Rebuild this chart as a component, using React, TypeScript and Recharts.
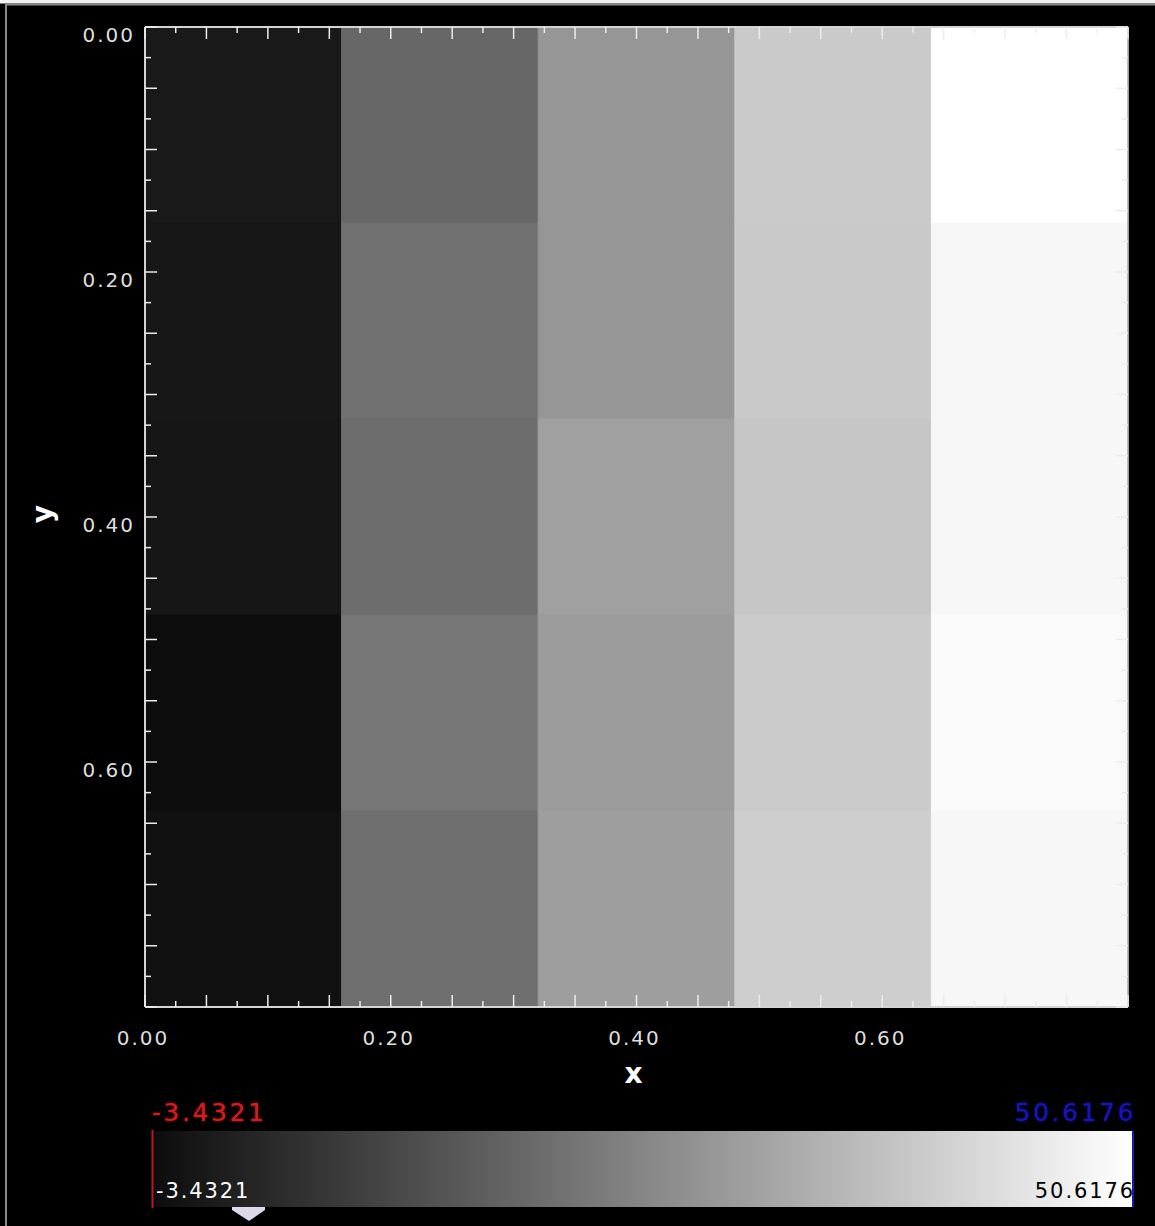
import React from "react";
import { ComposedChart, XAxis, YAxis, ReferenceArea, Label } from "recharts";

// cell edges along x and y (y grows downward)
const X_EDGES = [0, 0.16, 0.32, 0.48, 0.64, 0.8];
const Y_EDGES = [0, 0.16, 0.32, 0.48, 0.64, 0.8];

// one list per column, top row first
const COL_0 = [1.87, 1.44, 1.23, -0.68, 0.17];
const COL_1 = [18.4, 20.52, 19.67, 21.79, 20.1];
const COL_2 = [28.36, 28.36, 30.48, 29.42, 30.06];
const COL_3 = [39.38, 39.17, 38.53, 39.6, 40.23];
const COL_4 = [50.62, 48.92, 48.92, 49.56, 48.92];
const COLUMNS = [COL_0, COL_1, COL_2, COL_3, COL_4];

const V_MIN = -3.4321;
const V_MAX = 50.6176;

const LABEL_TICKS = [0, 0.2, 0.4, 0.6];
const MINOR_TICKS = Array.from({ length: 33 }, (_, i) => i * 0.025);

const FONT = "DejaVu Sans";
const TICK = "#ececec";
const FRAME = "#d4d4d4";

const cells = COLUMNS.flatMap((col, i) =>
  col.map((value, j) => ({
    x1: X_EDGES[i],
    x2: X_EDGES[i + 1],
    y1: Y_EDGES[j],
    y2: Y_EDGES[j + 1],
    xc: (X_EDGES[i] + X_EDGES[i + 1]) / 2,
    yc: (Y_EDGES[j] + Y_EDGES[j + 1]) / 2,
    value,
  }))
);

function gray(v: number) {
  const t = Math.min(1, Math.max(0, (v - V_MIN) / (V_MAX - V_MIN)));
  const g = Math.round(t * 255);
  return `rgb(${g},${g},${g})`;
}

const near = (a: number, b: number) => Math.abs(a - b) < 1e-6;
const isMajor = (v: number) => near(v / 0.05, Math.round(v / 0.05));
const hasLabel = (v: number) => LABEL_TICKS.some((t) => near(t, v));
const tickLen = (v: number) => (isMajor(v) ? 12 : 6);

const labelStyle = { fontFamily: FONT, fontSize: 20, letterSpacing: 2, fill: "#dedede" };

function BottomTick({ x, y, payload }: any) {
  const v = payload.value;
  return (
    <g>
      <line x1={x} x2={x} y1={y} y2={y - tickLen(v)} stroke={TICK} strokeWidth={1.5} />
      {hasLabel(v) && (
        <text x={x - 2} y={y + 38} textAnchor="middle" {...labelStyle}>
          {v.toFixed(2)}
        </text>
      )}
    </g>
  );
}

function TopTick({ x, y, payload }: any) {
  const v = payload.value;
  return <line x1={x} x2={x} y1={y} y2={y + tickLen(v)} stroke={TICK} strokeWidth={1.5} />;
}

function LeftTick({ x, y, payload }: any) {
  const v = payload.value;
  return (
    <g>
      <line x1={x} x2={x + tickLen(v)} y1={y} y2={y} stroke={TICK} strokeWidth={1.5} />
      {hasLabel(v) && (
        <text x={x - 10} y={y + 15} textAnchor="end" {...labelStyle}>
          {v.toFixed(2)}
        </text>
      )}
    </g>
  );
}

function RightTick({ x, y, payload }: any) {
  const v = payload.value;
  return <line x1={x} x2={x - tickLen(v)} y1={y} y2={y} stroke={TICK} strokeWidth={1.5} />;
}

function ColorBar() {
  const left = 152;
  const right = 1133;
  const top = 1131;
  const bottom = 1207;
  return (
    <svg
      width={1155}
      height={1226}
      style={{ position: "absolute", left: 0, top: 0, pointerEvents: "none" }}
    >
      <defs>
        <linearGradient id="cbar" x1="0" x2="1" y1="0" y2="0">
          <stop offset="0%" stopColor="#0c0c0c" />
          <stop offset="100%" stopColor="#ffffff" />
        </linearGradient>
        <filter id="glow" x="-10%" y="-30%" width="120%" height="160%">
          <feGaussianBlur stdDeviation="1.2" result="b" />
          <feMerge>
            <feMergeNode in="b" />
            <feMergeNode in="SourceGraphic" />
          </feMerge>
        </filter>
      </defs>
      {/* window frame */}
      <rect x={0} y={0} width={1155} height={3.5} fill="#f2f2f2" />
      <line x1={5} x2={1155} y1={4.5} y2={4.5} stroke="#8a8a8a" strokeWidth={2} />
      <line x1={6} x2={6} y1={4} y2={1226} stroke="#8a8a8a" strokeWidth={2} />

      <rect x={left} y={top} width={right - left} height={bottom - top} fill="url(#cbar)" />
      <line x1={left + 0.5} x2={left + 0.5} y1={top - 1} y2={bottom + 1} stroke="#b81a1a" strokeWidth={2} />
      <line x1={right} x2={right} y1={top} y2={bottom} stroke="#1a1aa8" strokeWidth={2} />

      <text x={left} y={1121} fontFamily={FONT} fontSize={25} letterSpacing={2.6} fill="#d41c1c" filter="url(#glow)">
        {V_MIN.toFixed(4)}
      </text>
      <text
        x={right + 3}
        y={1121}
        textAnchor="end"
        fontFamily={FONT}
        fontSize={25}
        letterSpacing={2.6}
        fill="#1414b8"
        filter="url(#glow)"
      >
        {V_MAX.toFixed(4)}
      </text>
      <text x={left + 4} y={1198} fontFamily={FONT} fontSize={21} letterSpacing={1.9} fill="#ffffff">
        {V_MIN.toFixed(4)}
      </text>
      <text x={right + 2} y={1198} textAnchor="end" fontFamily={FONT} fontSize={21} letterSpacing={1.9} fill="#000000">
        {V_MAX.toFixed(4)}
      </text>

      <polygon points="232,1207 265,1207 265,1210 249,1221 232,1210" fill="#dcd8ea" />
    </svg>
  );
}

export default function App() {
  return (
    <div style={{ position: "relative", width: 1155, height: 1226, background: "#000", overflow: "hidden" }}>
      <style>{"body{margin:0}"}</style>
      <ComposedChart
        width={1155}
        height={1226}
        data={cells}
        margin={{ top: 26, right: 26, bottom: 0, left: 0 }}
      >
        <XAxis
          xAxisId="b"
          dataKey="xc"
          type="number"
          domain={[0, 0.8]}
          allowDataOverflow
          ticks={MINOR_TICKS}
          interval={0}
          height={219}
          tickSize={0}
          tickMargin={0}
          tickLine={false}
          axisLine={{ stroke: FRAME, strokeWidth: 2 }}
          tick={<BottomTick />}
        >
          <Label
            content={({ viewBox }: any) => (
              <text
                x={viewBox.x + viewBox.width / 2 - 3}
                y={viewBox.y + 76}
                textAnchor="middle"
                fontFamily={FONT}
                fontWeight="bold"
                fontSize={28}
                fill="#ffffff"
              >
                x
              </text>
            )}
          />
        </XAxis>
        <XAxis
          xAxisId="t"
          dataKey="xc"
          orientation="top"
          type="number"
          domain={[0, 0.8]}
          allowDataOverflow
          ticks={MINOR_TICKS}
          interval={0}
          height={1}
          tickSize={0}
          tickMargin={0}
          tickLine={false}
          axisLine={{ stroke: FRAME, strokeWidth: 2 }}
          tick={<TopTick />}
        />
        <YAxis
          yAxisId="l"
          type="number"
          domain={[0, 0.8]}
          reversed
          allowDataOverflow
          ticks={MINOR_TICKS}
          interval={0}
          width={145}
          tickSize={0}
          tickMargin={0}
          tickLine={false}
          axisLine={{ stroke: FRAME, strokeWidth: 2 }}
          tick={<LeftTick />}
        >
          <Label
            content={({ viewBox }: any) => {
              const cx = 52;
              const cy = viewBox.y + viewBox.height / 2 - 3;
              return (
                <text
                  x={cx}
                  y={cy}
                  transform={`rotate(-90, ${cx}, ${cy})`}
                  textAnchor="middle"
                  fontFamily={FONT}
                  fontWeight="bold"
                  fontSize={28}
                  fill="#ffffff"
                >
                  y
                </text>
              );
            }}
          />
        </YAxis>
        <YAxis
          yAxisId="r"
          orientation="right"
          type="number"
          domain={[0, 0.8]}
          reversed
          allowDataOverflow
          ticks={MINOR_TICKS}
          interval={0}
          width={1}
          tickSize={0}
          tickMargin={0}
          tickLine={false}
          axisLine={{ stroke: "#a8a8a8", strokeWidth: 1.5 }}
          tick={<RightTick />}
        />
        {cells.map((c, k) => (
          <ReferenceArea
            key={k}
            xAxisId="b"
            yAxisId="l"
            x1={c.x1}
            x2={c.x2}
            y1={c.y1}
            y2={c.y2}
            fill={gray(c.value)}
            fillOpacity={1}
            stroke={gray(c.value)}
            strokeWidth={1}
            ifOverflow="visible"
          />
        ))}
      </ComposedChart>
      <ColorBar />
    </div>
  );
}
